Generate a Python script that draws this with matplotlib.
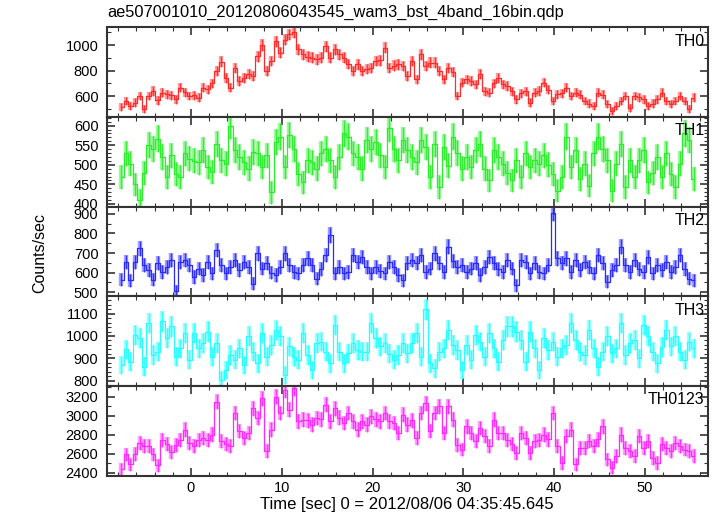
# WAM BST 4-band light curve, 0.5 s bins, stacked panels (qdp style)
import numpy as np
import matplotlib
matplotlib.use("Agg")
import matplotlib.pyplot as plt
from matplotlib.ticker import MultipleLocator

plt.rcParams['font.family'] = ['Liberation Sans', 'DejaVu Sans']

TITLE = "ae507001010_20120806043545_wam3_bst_4band_16bin.qdp"
XLABEL = "Time [sec] 0 = 2012/08/06 04:35:45.645"
YLABEL = "Counts/sec"

T_START = -7.9   # start of first bin [s]
BIN = 0.5        # bin width [s]

th0 = [515, 560, 520, 548, 600, 500, 600, 640, 565, 625, 613, 605, 575, 665, 630, 600,
       605, 587, 665, 652, 700, 800, 870, 745, 665, 820, 718, 744, 770, 760, 914, 1000,
       796, 875, 1030, 940, 1044, 1084, 1100, 966, 927, 910, 901, 888, 900, 992, 901, 966,
       930, 901, 850, 796, 849, 796, 810, 822, 875, 880, 979, 822, 840, 849, 836, 757,
       875, 731, 927, 836, 862, 862, 800, 731, 822, 790, 600, 705, 731, 720, 692, 770,
       639, 626, 700, 744, 692, 680, 639, 574, 620, 639, 548, 626, 640, 705, 650, 561,
       613, 620, 665, 600, 626, 610, 561, 540, 522, 626, 610, 535, 483, 520, 561, 600,
       509, 600, 590, 574, 522, 540, 574, 626, 560, 535, 561, 600, 560, 496, 587]

th1 = [468, 529, 503, 450, 410, 480, 550, 541, 567, 520, 468, 524, 477, 468, 529, 516,
       510, 507, 537, 494, 481, 554, 511, 503, 600, 537, 520, 507, 490, 533, 529, 494,
       524, 430, 559, 572, 494, 576, 540, 477, 455, 511, 507, 490, 529, 541, 511, 468,
       520, 580, 572, 529, 520, 490, 563, 541, 559, 524, 494, 593, 540, 511, 563, 537,
       520, 507, 563, 546, 468, 554, 443, 546, 498, 572, 530, 490, 520, 494, 537, 554,
       490, 460, 537, 520, 503, 480, 460, 511, 468, 529, 494, 511, 503, 524, 500, 477,
       434, 468, 572, 494, 537, 464, 503, 447, 529, 572, 540, 511, 434, 503, 554, 443,
       511, 468, 511, 537, 455, 480, 520, 468, 529, 477, 443, 503, 580, 563, 464]

th2 = [565, 655, 560, 655, 724, 638, 613, 565, 647, 604, 630, 664, 505, 655, 664, 638,
       578, 621, 587, 655, 596, 715, 640, 596, 630, 664, 613, 655, 630, 544, 698, 621,
       647, 600, 587, 630, 698, 638, 604, 596, 638, 673, 638, 570, 620, 690, 792, 596,
       630, 596, 604, 690, 655, 681, 630, 596, 630, 610, 596, 655, 630, 587, 560, 647,
       664, 647, 690, 604, 621, 698, 647, 604, 732, 660, 630, 638, 604, 621, 647, 587,
       630, 681, 647, 620, 604, 664, 621, 536, 664, 655, 596, 647, 604, 596, 638, 905,
       673, 647, 673, 604, 664, 613, 655, 630, 596, 690, 647, 553, 613, 638, 732, 638,
       604, 664, 620, 604, 681, 596, 638, 613, 655, 604, 630, 690, 620, 570, 560]

th3 = [870, 940, 885, 1005, 990, 863, 1058, 915, 930, 1065, 990, 1043, 908, 945, 1013, 893,
       1013, 945, 968, 1020, 908, 968, 803, 848, 915, 893, 945, 870, 998, 930, 878, 1013,
       908, 960, 1028, 998, 825, 953, 908, 893, 1013, 915, 848, 968, 975, 930, 878, 1050,
       930, 878, 923, 968, 938, 930, 930, 1058, 990, 953, 968, 920, 893, 915, 968, 923,
       968, 1013, 908, 1120, 878, 855, 930, 945, 1028, 960, 938, 848, 960, 893, 1005, 975,
       908, 1013, 945, 885, 983, 1043, 1043, 1020, 983, 885, 1020, 945, 848, 990, 938, 975,
       908, 945, 960, 1058, 983, 930, 915, 1028, 945, 863, 930, 998, 923, 945, 1058, 915,
       968, 983, 900, 1050, 998, 930, 878, 950, 1028, 953, 998, 930, 893, 975, 945]

th0123 = [2437, 2593, 2489, 2600, 2714, 2680, 2680, 2593, 2480, 2749, 2700, 2620, 2697, 2749, 2853, 2714,
          2680, 2749, 2766, 2749, 2801, 3148, 2732, 2700, 2680, 3027, 2836, 2766, 2818, 3079, 2974, 3183,
          2627, 2853, 3200, 3027, 3270, 3061, 3287, 2940, 2957, 2950, 2905, 2974, 2960, 3113, 2940, 3079,
          2980, 2922, 3027, 2940, 2853, 2940, 2905, 2992, 2960, 2940, 3027, 2940, 2922, 2818, 3009, 2905,
          2950, 2766, 3027, 3131, 2836, 3027, 3096, 2818, 3096, 2957, 2697, 2645, 2888, 2818, 2732, 2870,
          2784, 2680, 2957, 2818, 2818, 2749, 2700, 2610, 2818, 2766, 2610, 2732, 2749, 2801, 2750, 3027,
          2680, 2506, 2784, 2853, 2489, 2662, 2662, 2732, 2680, 2750, 2888, 2541, 2454, 2575, 2801, 2662,
          2627, 2575, 2784, 2662, 2732, 2558, 2506, 2700, 2662, 2627, 2714, 2680, 2645, 2627, 2575]

names = ["TH0", "TH1", "TH2", "TH3", "TH0123"]
series = [th0, th1, th2, th3, th0123]
colors = ["#ff2a2a", "#2aee2a", "#2a2aff", "#2affff", "#ff2aff"]
ylims = [(435, 1140), (393, 622), (479, 936), (776, 1177), (2370, 3310)]
ymajor = [200, 50, 100, 100, 200]
yminor = [100, 10, 50, 20, 100]

fig, axs = plt.subplots(5, 1, sharex=True, figsize=(7.17, 5.16), dpi=100)
fig.subplots_adjust(left=0.149, right=0.987, top=0.947, bottom=0.078, hspace=0)

for ax, name, y, c, yl, mj, mn in zip(axs, names, series, colors, ylims, ymajor, yminor):
    y = np.array(y, dtype=float)
    t = T_START + BIN * (np.arange(len(y)) + 0.5)
    err = np.sqrt(y / BIN)  # poisson error on rate
    # wide pale bar plus thin solid line, like the qdp anti-aliased errors
    ax.errorbar(t, y, yerr=err, fmt='none', ecolor=c, elinewidth=3.2, alpha=0.45)
    ax.errorbar(t, y, yerr=err, fmt='none', ecolor=c, elinewidth=1.0, alpha=0.9)
    ax.step(t, y, where='mid', color=c, lw=0.9)
    ax.set_ylim(*yl)
    ax.yaxis.set_major_locator(MultipleLocator(mj))
    ax.yaxis.set_minor_locator(MultipleLocator(mn))
    ax.text(0.995, 0.93, name, transform=ax.transAxes, ha='right', va='top', fontsize=11.5)
    for sp in ax.spines.values():
        sp.set_linewidth(1.5)
        sp.set_color('#333333')
    ax.tick_params(which='both', direction='in', top=True, right=True, labelsize=10.5,
                   color='#333333', pad=6)
    ax.tick_params(which='major', length=6, width=1.2)
    ax.tick_params(which='minor', length=3, width=0.8)

axs[-1].set_xlim(-9.25, 56.9)
axs[-1].xaxis.set_major_locator(MultipleLocator(10))
axs[-1].xaxis.set_minor_locator(MultipleLocator(2))
axs[-1].tick_params(axis='x', pad=4)
axs[-1].set_xlabel(XLABEL, fontsize=12, labelpad=1)
fig.text(0.056, 0.51, YLABEL, rotation=90, ha='center', va='center', fontsize=11.5)
fig.text(0.150, 0.975, TITLE, ha='left', va='center', fontsize=11.8)

fig.savefig("out.png", dpi=100)
